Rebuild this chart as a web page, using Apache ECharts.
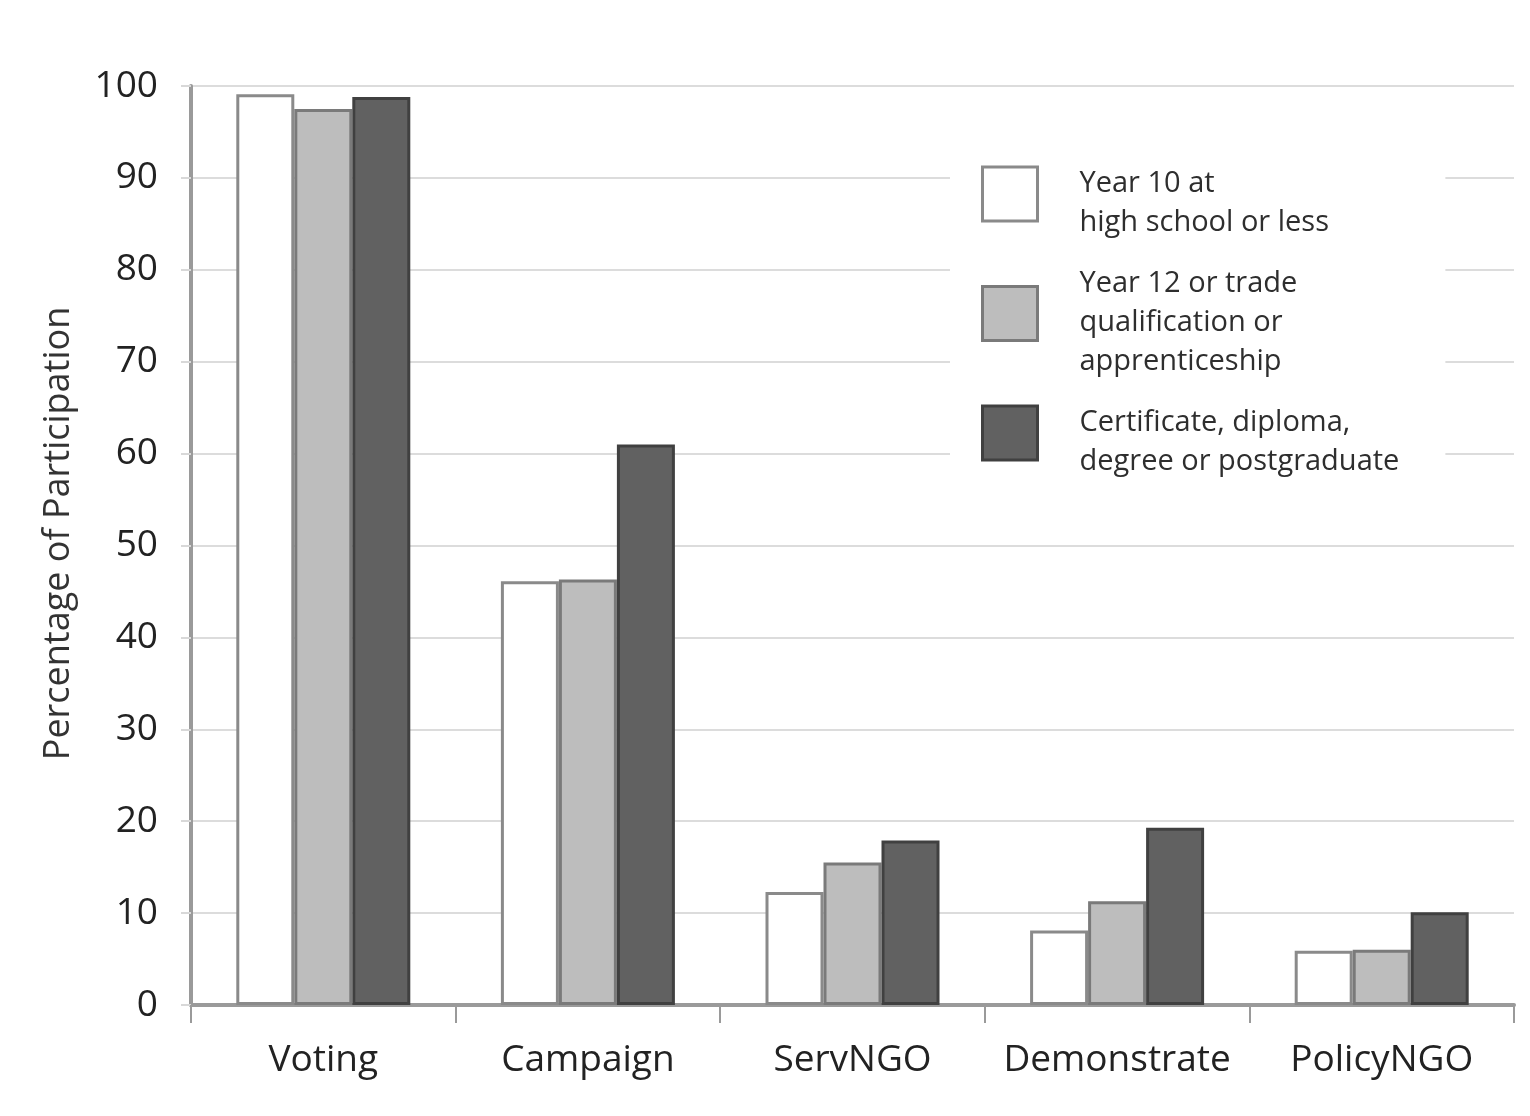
<!DOCTYPE html>
<html>
<head>
<meta charset="utf-8">
<style>
  html, body { margin: 0; padding: 0; background: #fff; }
  #chart { width: 1530px; height: 1116px; }
</style>
<script src="https://cdn.jsdelivr.net/npm/echarts@6/dist/echarts.min.js"></script>
</head>
<body>
<div id="chart"></div>
<script>
const categories = ['Voting', 'Campaign', 'ServNGO', 'Demonstrate', 'PolicyNGO'];
const seriesNames = [
  'Year 10 at\nhigh school or less',
  'Year 12 or trade\nqualification or\napprenticeship',
  'Certificate, diploma,\ndegree or postgraduate'
];
const year10Values = [99.1, 46.1, 12.3, 8.1, 5.9];
const year12Values = [97.5, 46.3, 15.5, 11.3, 6.0];
const certificateValues = [98.8, 61.0, 17.9, 19.3, 10.1];
const yTicks = { min: 0, max: 100, interval: 10 };
const yAxisTitle = 'Percentage of Participation';

const FONT = '"Open Sans", "Noto Sans", sans-serif';
const fills = ['#ffffff', '#bdbdbd', '#616161'];
const borders = ['#8a8a8a', '#7a7a7a', '#404040'];
const valueSets = [year10Values, year12Values, certificateValues];

const chart = echarts.init(document.getElementById('chart'), null, { renderer: 'canvas' });

const series = seriesNames.map((name, i) => ({
  name: name,
  type: 'bar',
  data: valueSets[i],
  barWidth: 58,
  barGap: '0%',
  itemStyle: { color: fills[i], borderColor: borders[i], borderWidth: 3 },
  emphasis: { disabled: true },
  animation: false
}));

chart.setOption({
  backgroundColor: '#ffffff',
  animation: false,
  grid: { left: 191, right: 16, top: 86, bottom: 111, containLabel: false },
  legend: {
    orient: 'vertical',
    left: 950,
    top: 124,
    padding: [22, 46, 22, 31],
    backgroundColor: '#ffffff',
    itemWidth: 55,
    itemHeight: 54,
    itemGap: 4,
    icon: 'rect',
    selectedMode: false,
    data: seriesNames.map((n, i) => ({
      name: n,
      itemStyle: { color: fills[i], borderColor: borders[i], borderWidth: 3 }
    })),
    formatter: function (name) {
      return '{p|}\n' + name.split('\n').map(function (s) { return '{t|' + s + '}'; }).join('\n');
    },
    textStyle: {
      fontFamily: FONT,
      fontSize: 29,
      lineHeight: 39,
      color: '#2e2e2e',
      padding: [0, 0, 0, 37],
      rich: {
        p: { fontSize: 1, lineHeight: 18 },
        t: { fontFamily: FONT, fontSize: 29, lineHeight: 39, color: '#2e2e2e' }
      }
    }
  },
  xAxis: {
    type: 'category',
    data: categories,
    axisLine: { show: true, lineStyle: { color: '#9a9a9a', width: 4 } },
    axisTick: { show: true, interval: 0, length: 18, lineStyle: { color: '#9a9a9a', width: 2 } },
    axisLabel: { interval: 0, fontFamily: FONT, fontSize: 37, color: '#222', margin: 37 },
    splitLine: { show: false }
  },
  yAxis: {
    type: 'value',
    min: yTicks.min,
    max: yTicks.max,
    interval: yTicks.interval,
    name: yAxisTitle,
    nameLocation: 'middle',
    nameGap: 114,
    nameRotate: 90,
    nameTextStyle: { fontFamily: FONT, fontSize: 36, color: '#333', padding: [0, 0, 0, 24] },
    axisLine: { show: true, lineStyle: { color: '#9a9a9a', width: 4 } },
    axisTick: { show: true, length: 10, lineStyle: { color: '#d8d8d8', width: 2 } },
    axisLabel: { fontFamily: FONT, fontSize: 37, color: '#222', margin: 33 },
    splitLine: { show: true, lineStyle: { color: '#dcdcdc', width: 2 } }
  },
  series: series
});
</script>
</body>
</html>
